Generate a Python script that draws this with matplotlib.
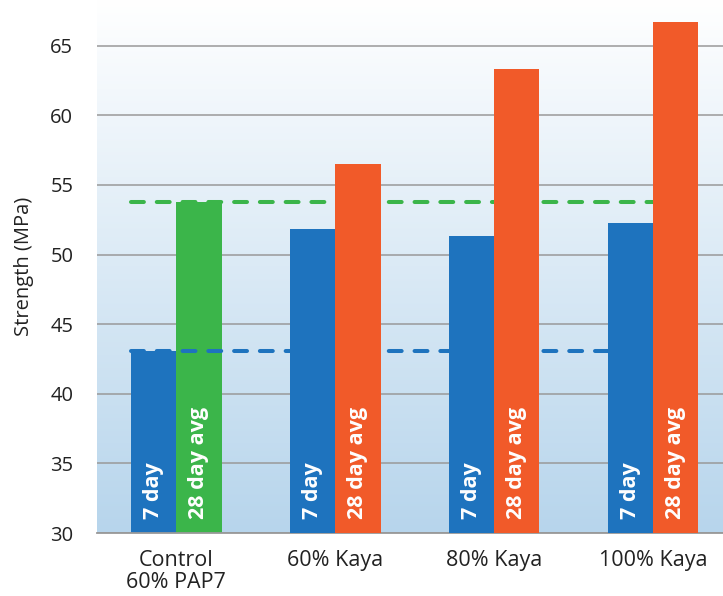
import numpy as np
import matplotlib
matplotlib.use("Agg")
from matplotlib import pyplot as plt
from matplotlib.colors import LinearSegmentedColormap

plt.rcParams['font.family'] = ['Open Sans', 'DejaVu Sans']

# DATOS
categorias = ["Control\n60% PAP7", "60% Kaya", "80% Kaya", "100% Kaya"]
dia7 = [43.1, 51.8, 51.3, 52.3]
dia28 = [53.8, 56.5, 63.3, 66.7]
etiqueta7 = "7 day"
etiqueta28 = "28 day avg"

AZUL = "#1e73be"
VERDE = "#3bb54a"
NARANJA = "#f15a29"

fig = plt.figure(figsize=(7.23, 5.96), dpi=100)
ax = fig.add_axes([0.134, 0.1057, 0.866, 0.8943])

# FONDO DEGRADADO
cmap = LinearSegmentedColormap.from_list("fondo", ["#b7d5ec", "#ffffff"])
grad = np.linspace(0, 1, 256).reshape(-1, 1)
ax.imshow(grad, cmap=cmap, origin="lower", aspect="auto",
          extent=(0, 1, 0, 1), transform=ax.transAxes, zorder=0)

x = np.arange(len(categorias))
w = 0.285

# BARRAS (control debajo de las lineas, Kaya encima)
colores28 = [VERDE] + [NARANJA] * (len(categorias) - 1)
for i in range(len(categorias)):
    z = 2 if i == 0 else 4
    ax.bar(x[i] - w / 2, dia7[i] - 30, w, bottom=30, color=AZUL, zorder=z)
    ax.bar(x[i] + w / 2, dia28[i] - 30, w, bottom=30, color=colores28[i], zorder=z)
    ax.text(x[i] - w / 2, 31.0, etiqueta7, rotation=90, ha="center", va="bottom",
            color="white", fontsize=15.5, fontweight="bold", zorder=5)
    ax.text(x[i] + w / 2, 31.0, etiqueta28, rotation=90, ha="center", va="bottom",
            color="white", fontsize=15.5, fontweight="bold", zorder=5)

# LINEAS DE REFERENCIA DEL CONTROL
for val, col in ((dia28[0], VERDE), (dia7[0], AZUL)):
    ln, = ax.plot([x[0] - w, x[-1]], [val, val], color=col, lw=2.9,
                  solid_capstyle="round", dash_capstyle="round", zorder=3)
    ln.set_dashes((3.2, 3.2))

# EJES
ax.set_xlim(-0.5, 3.44)
ax.set_ylim(30, 68.28)
ax.set_yticks(range(30, 70, 5))
ax.set_xticks(x)
ax.set_xticklabels(categorias, fontsize=15.5, color="#222222", linespacing=1.1)
ax.tick_params(axis="y", length=0, pad=17, labelsize=14.5, labelcolor="#222222")
ax.tick_params(axis="x", length=0, pad=12)
ax.grid(axis="y", color="#999999", lw=1.1, zorder=1)
ax.set_axisbelow(True)
for s in ("top", "right", "left"):
    ax.spines[s].set_visible(False)
ax.spines["bottom"].set_color("#999999")
ax.spines["bottom"].set_linewidth(1.3)
ax.set_ylabel("Strength (MPa)", fontsize=14.5, color="#222222")
ax.yaxis.set_label_coords(-0.100, 0.5)

fig.savefig("out.png", dpi=100)
